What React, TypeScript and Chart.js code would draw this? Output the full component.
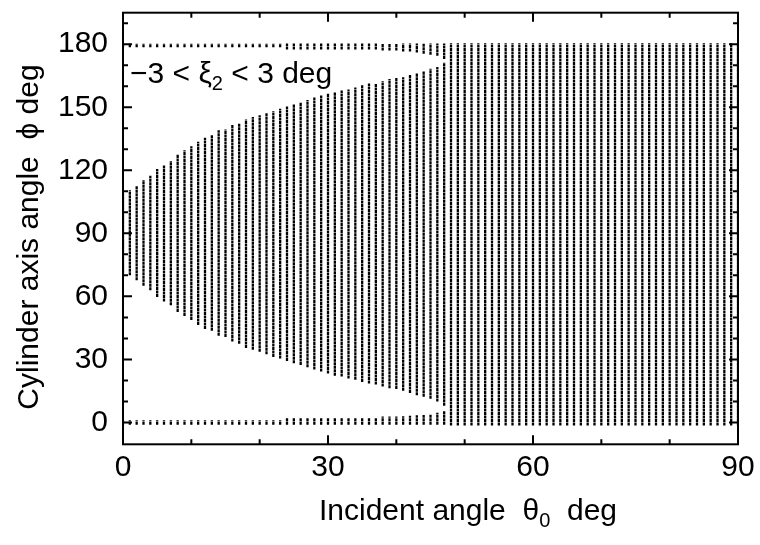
import { useEffect, useRef } from "react";
import { Chart, registerables } from "chart.js";

Chart.register(...registerables);

// Incident angle theta0 (deg), one vertical line per degree
const thetaDeg = [
  0, 1, 2, 3, 4, 5, 6, 7, 8, 9, 10, 11, 12, 13, 14, 15, 16, 17, 18, 19, 20,
  21, 22, 23, 24, 25, 26, 27, 28, 29, 30, 31, 32, 33, 34, 35, 36, 37, 38, 39,
  40, 41, 42, 43, 44, 45, 46, 47, 48, 49, 50, 51, 52, 53, 54, 55, 56, 57, 58,
  59, 60, 61, 62, 63, 64, 65, 66, 67, 68, 69, 70, 71, 72, 73, 74, 75, 76, 77,
  78, 79, 80, 81, 82, 83, 84, 85, 86, 87, 88, 89, 90,
];

// Lower end of the main phi band (deg)
const bandLow = [
  71, 70.0, 67.7, 65.0, 62.9, 59.7, 57.5, 55.8, 52.6, 50.7, 48.7, 46.4, 44.5,
  43.6, 41.2, 40.7, 38.5, 37.5, 35.4, 34.6, 33.6, 32.5, 31.2, 30.4, 29.3, 28.2,
  27.3, 26.3, 25.2, 24.2, 23.3, 22.2, 21.9, 20.9, 20.3, 19.3, 18.5, 18.1, 17.1,
  16.3, 15.9, 15.1, 14.0, 13.0, 12.2, 11.3, 10.0, 7.9, -1.5, -1.5, -1.5, -1.5,
  -1.5, -1.5, -1.5, -1.5, -1.5, -1.5, -1.5, -1.5, -1.5, -1.5, -1.5, -1.5, -1.5,
  -1.5, -1.5, -1.5, -1.5, -1.5, -1.5, -1.5, -1.5, -1.5, -1.5, -1.5, -1.5, -1.5,
  -1.5, -1.5, -1.5, -1.5, -1.5, -1.5, -1.5, -1.5, -1.5, -1.5, -1.5, -1.5, -1.5,
];

// Upper end of the main phi band (deg)
const bandHigh = [
  109, 110.5, 112.5, 115.4, 117.4, 120.6, 122.5, 124.4, 127.6, 129.5, 131.5,
  133.6, 135.5, 136.7, 139.1, 139.4, 141.5, 142.4, 144.2, 145.4, 146.2, 147.3,
  148.1, 149.3, 150.4, 151.5, 152.4, 153.4, 154.6, 155.6, 156.7, 157.3, 158.0,
  158.5, 159.4, 160.5, 161.3, 161.3, 162.4, 163.5, 164.0, 164.3, 165.6, 166.3,
  167.3, 168.3, 169.2, 171.3, 180.5, 180.5, 180.5, 180.5, 180.5, 180.5, 180.5,
  180.5, 180.5, 180.5, 180.5, 180.5, 180.5, 180.5, 180.5, 180.5, 180.5, 180.5,
  180.5, 180.5, 180.5, 180.5, 180.5, 180.5, 180.5, 180.5, 180.5, 180.5, 180.5,
  180.5, 180.5, 180.5, 180.5, 180.5, 180.5, 180.5, 180.5, 180.5, 180.5, 180.5,
  180.5, 180.5, 180.5,
];

// Short separate pieces near phi = 180 and phi = 0 (theta 0..47)
const capTheta = [
  0, 1, 2, 3, 4, 5, 6, 7, 8, 9, 10, 11, 12, 13, 14, 15, 16, 17, 18, 19, 20,
  21, 22, 23, 24, 25, 26, 27, 28, 29, 30, 31, 32, 33, 34, 35, 36, 37, 38, 39,
  40, 41, 42, 43, 44, 45, 46, 47,
];
const topCapLow = [
  178.5, 178.5, 178.5, 178.5, 178.5, 178.5, 178.5, 178.5, 178.5, 178.5, 178.5,
  178.5, 178.5, 178.5, 178.5, 178.5, 178.5, 178.5, 178.5, 178.5, 178.5, 178.5,
  178.5, 178.5, 177.5, 177.5, 177.5, 177.5, 177.5, 177.5, 177.5, 177.5, 177.5,
  177.5, 177.5, 177.5, 177.5, 177.5, 177.0, 177.0, 177.0, 176.5, 176.5, 176.0,
  175.5, 175.0, 174.5, 173.0,
];
const topCapHigh = 180.3;
const bottomCapHigh = [
  1.1, 1.1, 1.1, 1.1, 1.1, 1.1, 1.1, 1.1, 1.1, 1.1, 1.1, 1.1, 1.1, 1.1, 1.1,
  1.1, 1.1, 1.1, 1.1, 1.1, 1.1, 1.1, 1.1, 1.1, 2.0, 2.0, 2.0, 2.0, 2.0, 2.0,
  2.0, 2.0, 2.0, 2.0, 2.0, 2.0, 2.0, 2.0, 2.8, 2.8, 2.8, 3.0, 3.2, 3.4, 3.6,
  3.9, 4.6, 5.6,
];
const bottomCapLow = -1.1;

const xTickValues = [0, 30, 60, 90];
const xMinorTicks = [10, 20, 40, 50, 70, 80];
const yTickValues = [0, 30, 60, 90, 120, 150, 180];
const yMinorTicks = [10, 20, 40, 50, 70, 80, 100, 110, 130, 140, 160, 170, 190];

const FONT = "'Liberation Sans', Arial, Helvetica, sans-serif";

type Part = { t: string; sub?: boolean };

function drawRich(
  ctx: CanvasRenderingContext2D,
  parts: Part[],
  x: number,
  y: number,
  size: number,
  align: "left" | "center"
) {
  const subSize = Math.round(size * 0.68);
  const widths = parts.map((p) => {
    ctx.font = `${p.sub ? subSize : size}px ${FONT}`;
    return ctx.measureText(p.t).width;
  });
  const total = widths.reduce((a, b) => a + b, 0);
  let cx = align === "center" ? x - total / 2 : x;
  ctx.textAlign = "left";
  ctx.textBaseline = "alphabetic";
  parts.forEach((p, i) => {
    ctx.font = `${p.sub ? subSize : size}px ${FONT}`;
    ctx.fillText(p.t, cx, p.sub ? y + size * 0.22 : y);
    cx += widths[i];
  });
}

const framePlugin = {
  id: "frame",
  afterDatasetsDraw(chart: any) {
    const { ctx, chartArea } = chart;
    const xs = chart.scales.x;
    const ys = chart.scales.y;
    const { left, right, top, bottom } = chartArea;
    ctx.save();
    ctx.strokeStyle = "#000";
    ctx.lineWidth = 2;
    ctx.strokeRect(left, top, right - left, bottom - top);
    const major = 9;
    const minor = 5;
    ctx.beginPath();
    const xt = (v: number, len: number) => {
      const px = xs.getPixelForValue(v);
      ctx.moveTo(px, bottom);
      ctx.lineTo(px, bottom - len);
      ctx.moveTo(px, top);
      ctx.lineTo(px, top + len);
    };
    const yt = (v: number, len: number) => {
      const py = ys.getPixelForValue(v);
      ctx.moveTo(left, py);
      ctx.lineTo(left + len, py);
      ctx.moveTo(right, py);
      ctx.lineTo(right - len, py);
    };
    xTickValues.forEach((v) => xt(v, major));
    xMinorTicks.forEach((v) => xt(v, minor));
    yTickValues.forEach((v) => yt(v, major));
    yMinorTicks.forEach((v) => yt(v, minor));
    ctx.stroke();

    ctx.fillStyle = "#000";
    // annotation inside plot
    drawRich(
      ctx,
      [{ t: "\u22123 < \u03BE" }, { t: "2", sub: true }, { t: " < 3 deg" }],
      left + 7,
      ys.getPixelForValue(161.5),
      30,
      "left"
    );
    ctx.restore();
  },
  afterDraw(chart: any) {
    const { ctx } = chart;
    ctx.save();
    ctx.fillStyle = "#000";
    // x title
    drawRich(
      ctx,
      [{ t: "Incident angle  \u03B8" }, { t: "0", sub: true }, { t: "  deg" }],
      468,
      520,
      30,
      "center"
    );
    // y title
    ctx.translate(38, 237);
    ctx.rotate(-Math.PI / 2);
    drawRich(ctx, [{ t: "Cylinder axis angle  \u03D5 deg" }], 0, 0, 30, "center");
    ctx.restore();
  },
};

function segments(xs: number[], lo: number[] | number, hi: number[] | number) {
  const pts: { x: number; y: number | null }[] = [];
  xs.forEach((x, i) => {
    const a = Array.isArray(lo) ? lo[i] : lo;
    const b = Array.isArray(hi) ? hi[i] : hi;
    pts.push({ x, y: a }, { x, y: b }, { x, y: null });
  });
  return pts;
}

export default function App() {
  const ref = useRef<HTMLCanvasElement | null>(null);

  useEffect(() => {
    document.body.style.margin = "0";
    const canvas = ref.current;
    if (!canvas) return;
    const lineStyle = {
      borderColor: "#000",
      borderWidth: 2.3,
      borderDash: [3, 0.5],
      pointRadius: 0,
      spanGaps: false,
      fill: false,
      tension: 0,
    };
    const chart = new Chart(canvas, {
      type: "line",
      data: {
        datasets: [
          { label: "band", data: segments(thetaDeg, bandLow, bandHigh), ...lineStyle },
          { label: "top", data: segments(capTheta, topCapLow, topCapHigh), ...lineStyle },
          { label: "bottom", data: segments(capTheta, bottomCapLow, bottomCapHigh), ...lineStyle },
        ],
      },
      options: {
        animation: false,
        responsive: false,
        devicePixelRatio: 1,
        parsing: false,
        normalized: true,
        layout: { padding: { top: 12.7, right: 22, left: 0, bottom: 0 } },
        plugins: {
          legend: { display: false },
          tooltip: { enabled: false },
          title: { display: false },
        },
        scales: {
          x: {
            type: "linear",
            min: 0,
            max: 90,
            grid: { display: false, drawTicks: false },
            border: { display: false },
            afterBuildTicks: (s: any) => {
              s.ticks = xTickValues.map((v) => ({ value: v }));
            },
            afterFit: (s: any) => {
              s.height = 100.7;
              s.paddingLeft = 0;
              s.paddingRight = 0;
            },
            ticks: {
              font: { family: FONT, size: 30 },
              color: "#000",
              padding: 5,
              maxRotation: 0,
              autoSkip: false,
            },
          },
          y: {
            type: "linear",
            min: -10.4,
            max: 195,
            grid: { display: false, drawTicks: false },
            border: { display: false },
            afterBuildTicks: (s: any) => {
              s.ticks = yTickValues.map((v) => ({ value: v }));
            },
            afterFit: (s: any) => {
              s.width = 123;
              s.paddingTop = 0;
              s.paddingBottom = 0;
            },
            ticks: {
              font: { family: FONT, size: 30 },
              color: "#000",
              padding: 15,
              autoSkip: false,
            },
          },
        },
      },
      plugins: [framePlugin],
    } as any);
    return () => chart.destroy();
  }, []);

  return (
    <div style={{ width: 760, height: 545, background: "#fff" }}>
      <canvas ref={ref} width={760} height={545} style={{ display: "block" }} />
    </div>
  );
}
